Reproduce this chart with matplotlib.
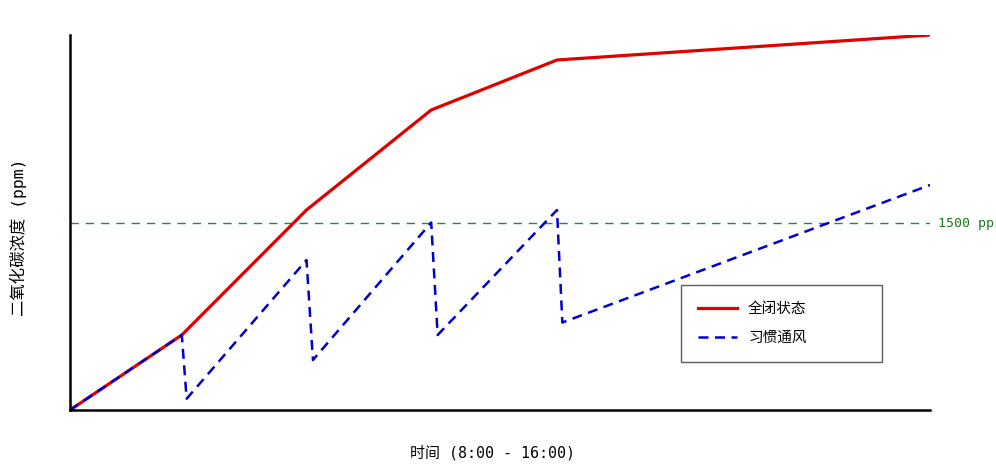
import matplotlib
matplotlib.use("Agg")
import matplotlib.pyplot as plt
from matplotlib.lines import Line2D

plt.rcParams['font.family'] = ['DejaVu Sans Mono', 'Noto Sans CJK SC']

# hours since 8:00
closed_x = [0, 1.04, 2.20, 3.36, 4.53, 8.0]
closed_y = [0, 600, 1600, 2400, 2800, 3000]

vent_x = [0, 1.04, 1.085, 2.20, 2.26, 3.36, 3.42, 4.53, 4.58, 8.0]
vent_y = [0, 600, 90, 1200, 400, 1500, 600, 1600, 700, 1800]

threshold = 1500
series_labels = ['全闭状态', '习惯通风']

fig = plt.figure(figsize=(9.96, 4.66), dpi=100)
ax = fig.add_axes([70/996, 56/466, 860/996, 375/466])

ax.axhline(threshold, color='#2a8a2a', lw=1.0, dashes=(6, 5))
ax.plot(closed_x, closed_y, color='#e00000', lw=2.3, solid_joinstyle='miter')
ax.plot(vent_x, vent_y, color='#0000cc', lw=1.8, dashes=(4, 2.6))

ax.set_xlim(0, 8)
ax.set_ylim(0, 3000)
ax.set_xticks([])
ax.set_yticks([])
for s in ['top', 'right']:
    ax.spines[s].set_visible(False)
for s in ['left', 'bottom']:
    ax.spines[s].set_linewidth(1.8)
    ax.spines[s].set_color('black')

fig.text(938/996, 1 - 224/466, '1500 pp', color='#1a7a1a', fontsize=9.5,
         va='center', ha='left', family=['DejaVu Sans Mono'])

fig.text(492/996, 1 - 453/466, '时间 (8:00 - 16:00)', ha='center', va='center',
         fontsize=10.8)
fig.text(18/996, 1 - 237/466, '二氧化碳浓度 (ppm)', ha='center', va='center',
         rotation=90, fontsize=11.8)

handles = [Line2D([], [], color='#e00000', lw=2.3),
           Line2D([], [], color='#0000cc', lw=1.8, dashes=(4, 2.6))]
x0 = (681 - 70) / 860
x1 = (882 - 70) / 860
y1 = (410 - 285) / 375
y0 = (410 - 361) / 375
leg = ax.legend(handles, series_labels, loc='upper left',
                bbox_to_anchor=(x0, y0, x1 - x0, y1 - y0), mode='expand',
                frameon=True, fancybox=False, edgecolor='#333333',
                handlelength=2.7, borderpad=1.15,
                labelspacing=1.05, handletextpad=0.75, borderaxespad=0,
                prop={'family': ['Noto Sans CJK SC'], 'size': 10.5})
leg.get_frame().set_linewidth(1.0)

fig.savefig('out.png', dpi=100)
